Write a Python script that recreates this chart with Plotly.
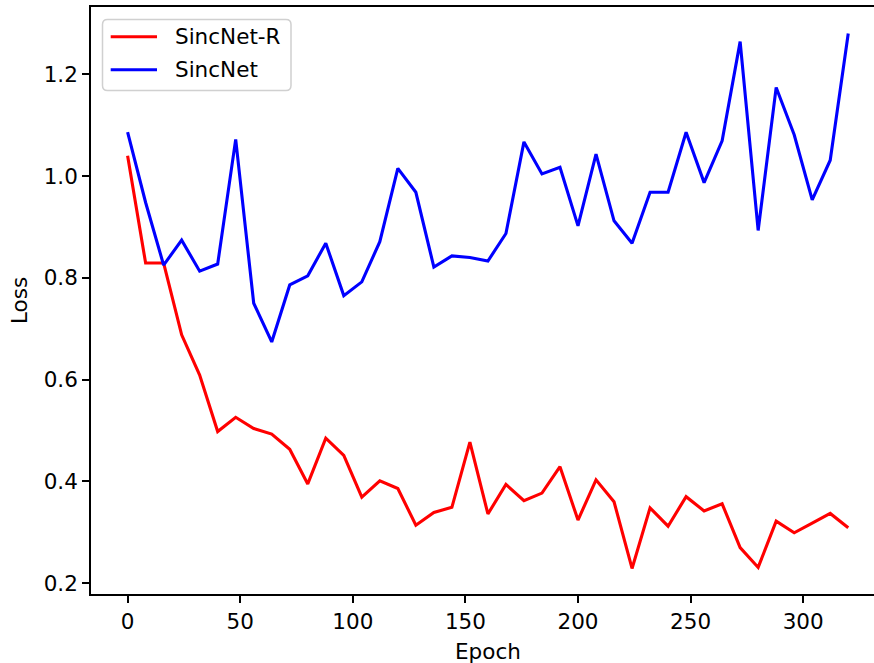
import plotly.graph_objects as go

epochs = list(range(0, 321, 8))
sincnet_r = [1.040, 0.829, 0.829, 0.688, 0.609, 0.498, 0.526, 0.504, 0.493, 0.463,
             0.395, 0.485, 0.451, 0.369, 0.401, 0.386, 0.314, 0.339, 0.349, 0.477,
             0.336, 0.394, 0.362, 0.377, 0.429, 0.324, 0.403, 0.360, 0.229, 0.348,
             0.312, 0.370, 0.342, 0.356, 0.270, 0.231, 0.322, 0.299, 0.318, 0.337,
             0.309]
sincnet = [1.086, 0.948, 0.825, 0.874, 0.813, 0.827, 1.072, 0.750, 0.674, 0.786,
           0.804, 0.868, 0.765, 0.792, 0.871, 1.015, 0.968, 0.821, 0.843, 0.840,
           0.833, 0.887, 1.067, 1.004, 1.017, 0.902, 1.043, 0.912, 0.868, 0.968,
           0.968, 1.086, 0.987, 1.069, 1.264, 0.893, 1.174, 1.081, 0.953, 1.031,
           1.280]
series_names = ["SincNet-R", "SincNet"]
series_colors = ["#ff0000", "#0000ff"]
x_ticks = [0, 50, 100, 150, 200, 250, 300]
y_ticks = [0.2, 0.4, 0.6, 0.8, 1.0, 1.2]

W, H = 874, 663
L, R, T, B = 91, 0, 7, 69
PW, PH = W - L - R, H - T - B
FONT = "DejaVu Sans"
FS = 21.5

fig = go.Figure()
for name, vals, col in zip(series_names, [sincnet_r, sincnet], series_colors):
    fig.add_trace(go.Scatter(x=epochs, y=vals, mode="lines", name=name,
                             line=dict(color=col, width=3.1), showlegend=False))

def px2paper(px, py):
    return (px - L) / PW, (H - B - py) / PH

# manual legend (matplotlib style)
x0, y0, x1, y1 = 102.5, 19.5, 291, 90.5
r = 5
def P(px, py):
    a, b = px2paper(px, py)
    return f"{a:.5f},{b:.5f}"
path = (f"M{P(x0 + r, y0)} L{P(x1 - r, y0)} Q{P(x1, y0)} {P(x1, y0 + r)} "
        f"L{P(x1, y1 - r)} Q{P(x1, y1)} {P(x1 - r, y1)} L{P(x0 + r, y1)} "
        f"Q{P(x0, y1)} {P(x0, y1 - r)} L{P(x0, y0 + r)} Q{P(x0, y0)} {P(x0 + r, y0)} Z")
fig.add_shape(type="path", path=path, xref="paper", yref="paper",
              line=dict(color="#d0d0d0", width=1.5), fillcolor="rgba(255,255,255,0.8)")
for i, (name, col) in enumerate(zip(series_names, series_colors)):
    ly = 36.7 + 33 * i
    a0, b0 = px2paper(110.7, ly)
    a1, _ = px2paper(157, ly)
    fig.add_shape(type="line", xref="paper", yref="paper", x0=a0, x1=a1, y0=b0, y1=b0,
                  line=dict(color=col, width=3.1))
    ta, tb = px2paper(173, ly)
    fig.add_annotation(x=ta, y=tb, xref="paper", yref="paper", text=name, showarrow=False,
                       xanchor="left", yanchor="middle", font=dict(family=FONT, size=FS, color="black"))

# axis titles
ea, eb = px2paper(487.5, 651)
fig.add_annotation(x=ea, y=eb, xref="paper", yref="paper", text="Epoch", showarrow=False,
                   xanchor="center", yanchor="middle", font=dict(family=FONT, size=FS, color="black"))
la, lb = px2paper(20, 301)
fig.add_annotation(x=la, y=lb, xref="paper", yref="paper", text="Loss", showarrow=False,
                   textangle=-90, xanchor="center", yanchor="middle",
                   font=dict(family=FONT, size=FS, color="black"))

x_lo = (L - 127.6) / 2.252
x_hi = (W - 127.6) / 2.252
y_lo = 1.0 - (H - B - 176) / 509
y_hi = 1.0 + (176 - T) / 509

fig.update_layout(
    width=W, height=H,
    margin=dict(l=L, r=R, t=T, b=B),
    paper_bgcolor="white", plot_bgcolor="white",
    font=dict(family=FONT, size=FS, color="black"),
    xaxis=dict(range=[x_lo, x_hi], tickvals=x_ticks, ticktext=[str(v) for v in x_ticks],
               showgrid=False, zeroline=False, showline=True, linecolor="black", linewidth=1.7,
               mirror=True, ticks="outside", ticklen=7, tickwidth=1.7, tickcolor="black",
               tickfont=dict(family=FONT, size=FS, color="black")),
    yaxis=dict(range=[y_lo, y_hi], tickvals=y_ticks, ticktext=[f"{v:.1f}" for v in y_ticks],
               showgrid=False, zeroline=False, showline=True, linecolor="black", linewidth=1.7,
               mirror=False, ticks="outside", ticklen=7, tickwidth=1.7, tickcolor="black",
               tickfont=dict(family=FONT, size=FS, color="black")),
    showlegend=False,
)

fig.write_html("out.html")
